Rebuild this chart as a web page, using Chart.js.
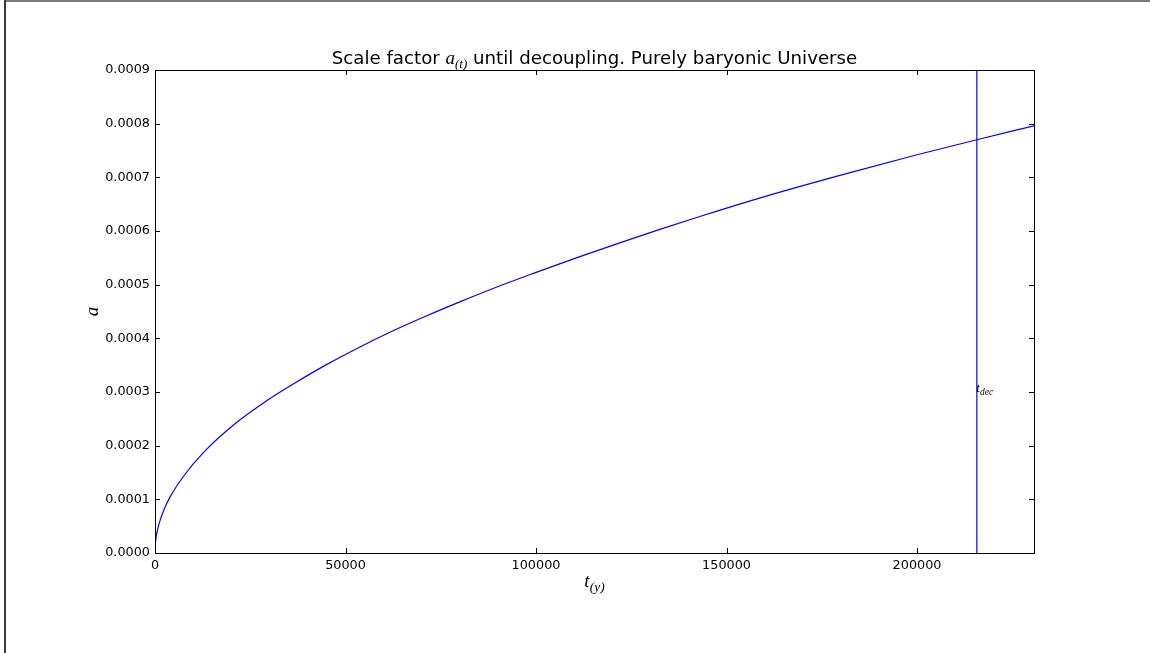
<!DOCTYPE html>
<html>
<head>
<meta charset="utf-8">
<title>Scale factor until decoupling</title>
<script src="https://cdn.jsdelivr.net/npm/chart.js@4/dist/chart.umd.min.js"></script>
<style>
  html, body { margin: 0; padding: 0; background: #ffffff; }
  #wrap { width: 1150px; height: 653px; position: relative; }
</style>
</head>
<body>
<div id="wrap"><canvas id="c" width="1150" height="653"></canvas></div>
<script>
// Cosmic time in years and the scale factor a(t) of a purely baryonic universe
const timeYears = [0, 120, 450, 1300, 2500, 4000, 7500, 12700, 21400, 30000, 36300, 45000,
  53800, 62500, 71300, 80000, 88400, 99300, 110200, 121200, 132100, 143000,
  160000, 180000, 200000, 215700, 230700];
const scaleFactor = [0, 0.0000185, 0.000036, 0.000060, 0.000083, 0.000105, 0.000143, 0.000187,
  0.000243, 0.000287, 0.000315, 0.000351, 0.000384, 0.000414, 0.000442, 0.000468,
  0.000492, 0.000521, 0.000549, 0.000576, 0.000602, 0.000627, 0.000664, 0.000704,
  0.000742, 0.000770, 0.000796];

// Decoupling time
const tDec = 215700;

// Axis limits and ticks
const xMax = 230700;
const yMax = 0.0009;
const xTicks = [0, 50000, 100000, 150000, 200000];
const yTicks = [0, 0.0001, 0.0002, 0.0003, 0.0004, 0.0005, 0.0006, 0.0007, 0.0008, 0.0009];

const BLUE = '#0000ff';
const SANS = '"DejaVu Sans", sans-serif';
const MATH = '"Liberation Serif", serif';

const curve = timeYears.map((t, i) => ({ x: t, y: scaleFactor[i] }));
const decLine = [{ x: tDec, y: 0 }, { x: tDec, y: yMax }];

// Draws the figure frame, inward ticks on all four sides and the math-style texts
const decorations = {
  id: 'decorations',
  beforeDraw(chart) {
    const ctx = chart.ctx;
    ctx.save();
    ctx.fillStyle = '#ffffff';
    ctx.fillRect(0, 0, chart.width, chart.height);
    // outer figure edge
    ctx.fillStyle = '#7a7a7a';
    ctx.fillRect(4, 0, chart.width - 4, 2);
    ctx.fillStyle = '#3a3a3a';
    ctx.fillRect(4, 0, 2, chart.height);
    ctx.restore();
  },
  afterDraw(chart) {
    const ctx = chart.ctx;
    const a = chart.chartArea;
    const xs = chart.scales.x, ys = chart.scales.y;
    ctx.save();
    ctx.strokeStyle = '#000000';
    ctx.lineWidth = 1;
    ctx.strokeRect(Math.round(a.left) + 0.5, Math.round(a.top) + 0.5,
      Math.round(a.right - a.left), Math.round(a.bottom - a.top));

    const tl = 5;
    ctx.beginPath();
    xTicks.forEach(v => {
      const px = Math.round(xs.getPixelForValue(v)) + 0.5;
      ctx.moveTo(px, a.bottom); ctx.lineTo(px, a.bottom - tl);
      ctx.moveTo(px, a.top); ctx.lineTo(px, a.top + tl);
    });
    yTicks.forEach(v => {
      const py = Math.round(ys.getPixelForValue(v)) + 0.5;
      ctx.moveTo(a.left, py); ctx.lineTo(a.left + tl, py);
      ctx.moveTo(a.right, py); ctx.lineTo(a.right - tl, py);
    });
    ctx.stroke();

    ctx.fillStyle = '#000000';
    ctx.textBaseline = 'alphabetic';
    ctx.textAlign = 'left';

    // Title: Scale factor a_(t) until decoupling. Purely baryonic Universe
    const parts = [
      { text: 'Scale factor ', font: '18.2px ' + SANS, dy: 0 },
      { text: 'a', font: 'italic 19px ' + MATH, dy: 0 },
      { text: '(t)', font: 'italic 13px ' + MATH, dy: 4 },
      { text: ' until decoupling. Purely baryonic Universe', font: '18.2px ' + SANS, dy: 0 }
    ];
    let total = 0;
    parts.forEach(p => { ctx.font = p.font; p.w = ctx.measureText(p.text).width; total += p.w; });
    let x0 = (a.left + a.right) / 2 - total / 2;
    const titleBase = 64;
    parts.forEach(p => {
      ctx.font = p.font;
      ctx.fillText(p.text, x0, titleBase + p.dy);
      x0 += p.w;
    });

    // x axis label t_(y)
    const xl = [
      { text: 't', font: 'italic 19px ' + MATH, dy: 0 },
      { text: '(y)', font: 'italic 13.5px ' + MATH, dy: 4 }
    ];
    total = 0;
    xl.forEach(p => { ctx.font = p.font; p.w = ctx.measureText(p.text).width; total += p.w; });
    x0 = (a.left + a.right) / 2 - total / 2;
    xl.forEach(p => {
      ctx.font = p.font;
      ctx.fillText(p.text, x0, 587 + p.dy);
      x0 += p.w;
    });

    // y axis label a
    ctx.save();
    ctx.translate(98, (a.top + a.bottom) / 2);
    ctx.rotate(-Math.PI / 2);
    ctx.textAlign = 'center';
    ctx.font = 'italic 19px ' + MATH;
    ctx.fillText('a', 0, 0);
    ctx.restore();

    // decoupling marker label
    const lx = xs.getPixelForValue(tDec);
    const ly = ys.getPixelForValue(0.0003);
    ctx.font = 'italic 13px ' + MATH;
    ctx.fillText('t', lx - 0.5, ly);
    const tw = ctx.measureText('t').width;
    ctx.font = 'italic 9.5px ' + MATH;
    ctx.fillText('dec', lx - 0.5 + tw, ly + 2.5);

    ctx.restore();
  }
};

new Chart(document.getElementById('c'), {
  type: 'line',
  data: {
    datasets: [
      {
        data: curve,
        borderColor: BLUE,
        borderWidth: 1.2,
        pointRadius: 0,
        fill: false,
        cubicInterpolationMode: 'monotone'
      },
      {
        data: decLine,
        borderColor: BLUE,
        borderWidth: 1.2,
        pointRadius: 0,
        fill: false,
        tension: 0
      }
    ]
  },
  options: {
    responsive: false,
    animation: false,
    events: [],
    layout: { padding: { left: 0, right: 116, top: 70, bottom: 0 } },
    plugins: { legend: { display: false }, tooltip: { enabled: false }, title: { display: false } },
    scales: {
      x: {
        type: 'linear',
        min: 0,
        max: xMax,
        afterBuildTicks: s => { s.ticks = xTicks.map(v => ({ value: v })); },
        afterFit: s => { s.height = 100; },
        grid: { display: false, drawTicks: false },
        border: { display: false },
        ticks: {
          padding: 5,
          maxRotation: 0,
          autoSkip: false,
          color: '#000000',
          font: { family: SANS, size: 12.8 },
          callback: v => String(v)
        }
      },
      y: {
        type: 'linear',
        min: 0,
        max: yMax,
        afterBuildTicks: s => { s.ticks = yTicks.map(v => ({ value: v })); },
        afterFit: s => { s.width = 155; },
        grid: { display: false, drawTicks: false },
        border: { display: false },
        ticks: {
          padding: 5,
          autoSkip: false,
          color: '#000000',
          font: { family: SANS, size: 12.8 },
          callback: v => Number(v).toFixed(4)
        }
      }
    }
  },
  plugins: [decorations]
});
</script>
</body>
</html>
